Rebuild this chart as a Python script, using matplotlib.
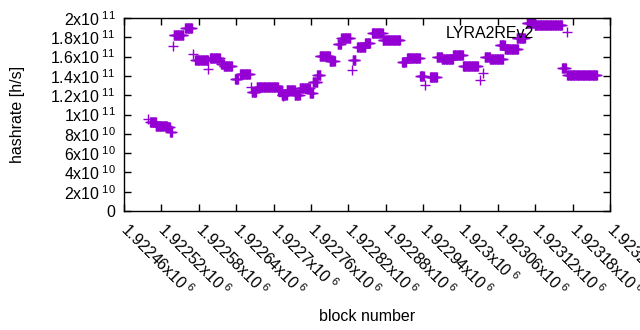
import numpy as np
import matplotlib
matplotlib.use('Agg')
import matplotlib.pyplot as plt
from matplotlib.ticker import FixedLocator

plt.rcParams['font.family'] = ['Liberation Sans', 'DejaVu Sans']
plt.rcParams['mathtext.fontset'] = 'custom'
plt.rcParams['mathtext.rm'] = 'Liberation Sans'
plt.rcParams['mathtext.it'] = 'Liberation Sans'

# runs of blocks with (roughly) constant hashrate, rate in units of 1e11 h/s
seg_start = [1922502, 1922511, 1922529, 1922534, 1922540, 1922558, 1922574, 1922598,
             1922616, 1922620, 1922638, 1922646, 1922665, 1922673, 1922707, 1922713,
             1922721, 1922734, 1922742, 1922758, 1922763, 1922770, 1922774, 1922790,
             1922803, 1922809, 1922827, 1922834, 1922847, 1922858, 1922875, 1922906,
             1922914, 1922935, 1922951, 1922962, 1922970, 1922988, 1923004, 1923039,
             1923047, 1923063, 1923071, 1923090, 1923106, 1923119, 1923163, 1923171]
seg_end = [1922511, 1922529, 1922534, 1922537, 1922555, 1922569, 1922595, 1922614,
           1922620, 1922633, 1922643, 1922662, 1922672, 1922707, 1922713, 1922721,
           1922734, 1922742, 1922758, 1922763, 1922770, 1922775, 1922790, 1922798,
           1922808, 1922823, 1922831, 1922847, 1922855, 1922875, 1922903, 1922912,
           1922935, 1922941, 1922962, 1922970, 1922988, 1923004, 1923028, 1923047,
           1923068, 1923071, 1923092, 1923103, 1923119, 1923163, 1923169, 1923219]
seg_rate = [0.922, 0.881, 0.870, 0.819, 1.824, 1.896, 1.565, 1.585,
            1.52, 1.50, 1.37, 1.42, 1.23, 1.285, 1.25, 1.20,
            1.25, 1.20, 1.275, 1.22, 1.34, 1.41, 1.61, 1.555,
            1.73, 1.79, 1.565, 1.70, 1.74, 1.845, 1.77, 1.545,
            1.585, 1.40, 1.39, 1.60, 1.575, 1.615, 1.50, 1.595,
            1.575, 1.72, 1.68, 1.79, 1.95, 1.93, 1.48, 1.41]

# isolated outlier blocks
pt_block = [1922498, 1922539, 1922571, 1922595, 1922664, 1922715, 1922826, 1922943,
            1923031, 1923036]
pt_rate = [0.953, 1.71, 1.63, 1.47, 1.285, 1.19, 1.46, 1.305, 1.36, 1.43]

xticks = [1922460 + 60 * i for i in range(14)]
xtick_labels = ['1.92246', '1.92252', '1.92258', '1.92264', '1.9227', '1.92276', '1.92282',
                '1.92288', '1.92294', '1.923', '1.92306', '1.92312', '1.92318', '1.92324']
yticks = [0, 2e10, 4e10, 6e10, 8e10, 1e11, 1.2e11, 1.4e11, 1.6e11, 1.8e11, 2e11]
ytick_labels = ['0', '2x10', '4x10', '6x10', '8x10', '1x10', '1.2x10', '1.4x10',
                '1.6x10', '1.8x10', '2x10']
ytick_exp = ['', '10', '10', '10', '10', '11', '11', '11', '11', '11', '11']

blocks = []
rates = []
for s, e, r in zip(seg_start, seg_end, seg_rate):
    b = np.arange(s, e + 1)
    blocks.append(b)
    rates.append(np.full(len(b), r))
blocks.append(np.array(pt_block))
rates.append(np.array(pt_rate))
blocks = np.concatenate(blocks)
rates = np.concatenate(rates) * 1e11

fig = plt.figure(figsize=(6.4, 3.3), dpi=100)
ax = fig.add_axes([124 / 640, 1 - 211 / 330, 486 / 640, 193 / 330])
color = '#9400d3'
ax.plot(blocks, rates, linestyle='none', marker='+', markersize=6.5,
        markeredgewidth=1.0, color=color, label='LYRA2REv2')

ax.set_xlim(1922460, 1923240)
ax.set_ylim(0, 2e11)
ax.xaxis.set_major_locator(FixedLocator(xticks))
ax.set_xticklabels([l + 'x10$^{\\ 6}$' for l in xtick_labels], rotation=-45,
                   ha='left', va='center', rotation_mode='anchor', fontsize=11.5)
ax.yaxis.set_major_locator(FixedLocator(yticks))
ax.set_yticklabels([m + ('$^{\\ %s}$' % e if e else '') for m, e in zip(ytick_labels, ytick_exp)],
                   fontsize=11.5)
ax.tick_params(direction='in', length=5, width=1, top=True, right=True, pad=6)
ax.tick_params(axis='x', pad=11)
for sp in ax.spines.values():
    sp.set_linewidth(1.0)

ax.set_xlabel('block number', fontsize=11.5)
ax.set_ylabel('hashrate [h/s]', fontsize=11.5)
ax.xaxis.set_label_coords(0.5, -0.51)
ax.yaxis.set_label_coords(-0.204, 0.5)

ax.legend(loc='upper right', bbox_to_anchor=(0.945, 1.0), markerfirst=False, frameon=False,
          fontsize=11.5, handlelength=1.0, handletextpad=1.6, borderaxespad=0.1)

fig.savefig('out.png', dpi=100)
